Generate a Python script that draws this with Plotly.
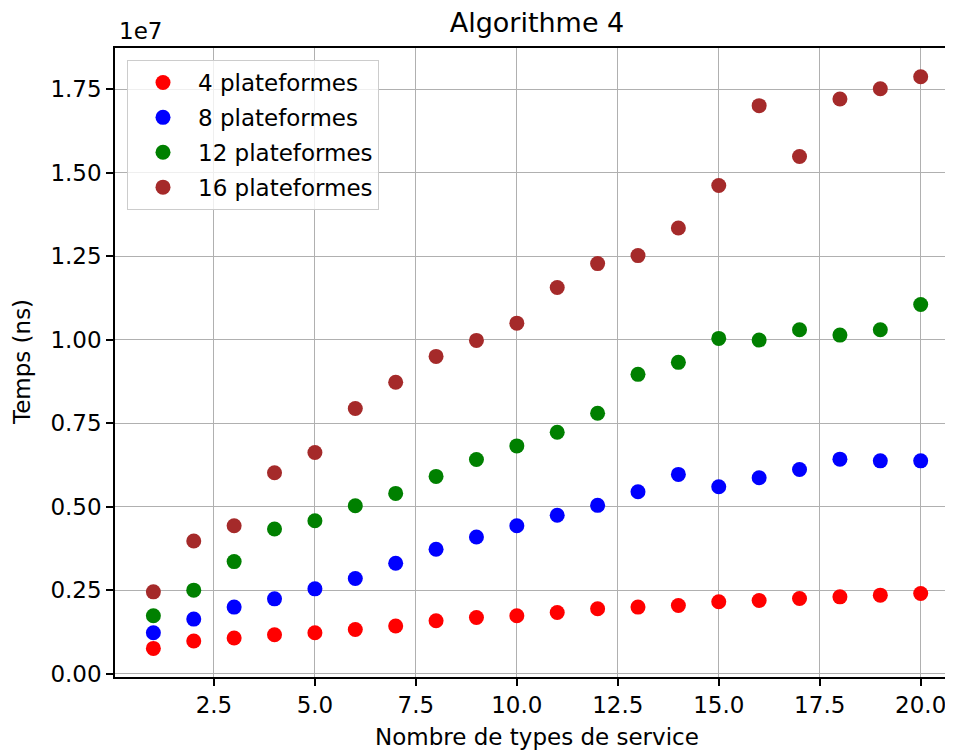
import plotly.graph_objects as go

n_types = list(range(1, 21))

t_4 = [0.756e6, 0.977e6, 1.066e6, 1.165e6, 1.225e6, 1.323e6, 1.425e6, 1.583e6, 1.682e6, 1.732e6,
       1.831e6, 1.941e6, 1.992e6, 2.040e6, 2.151e6, 2.189e6, 2.249e6, 2.300e6, 2.351e6, 2.398e6]
t_8 = [1.225e6, 1.634e6, 1.992e6, 2.240e6, 2.539e6, 2.847e6, 3.306e6, 3.725e6, 4.092e6, 4.430e6,
       4.740e6, 5.039e6, 5.445e6, 5.965e6, 5.594e6, 5.863e6, 6.114e6, 6.422e6, 6.371e6, 6.371e6]
t_12 = [1.732e6, 2.500e6, 3.354e6, 4.331e6, 4.579e6, 5.027e6, 5.397e6, 5.905e6, 6.413e6, 6.819e6,
        7.228e6, 7.796e6, 8.961e6, 9.319e6, 10.036e6, 9.985e6, 10.296e6, 10.135e6, 10.296e6, 11.052e6]
t_16 = [2.449e6, 3.973e6, 4.430e6, 6.013e6, 6.622e6, 7.936e6, 8.722e6, 9.498e6, 9.976e6, 10.493e6,
        11.559e6, 12.276e6, 12.515e6, 13.342e6, 14.615e6, 17.004e6, 15.481e6, 17.205e6, 17.512e6, 17.871e6]

series_names = ["4 plateformes", "8 plateformes", "12 plateformes", "16 plateformes"]
series_values = [t_4, t_8, t_12, t_16]
series_colors = ["red", "blue", "green", "brown"]

x_tickvals = [2.5, 5.0, 7.5, 10.0, 12.5, 15.0, 17.5, 20.0]
x_ticktext = ["2.5", "5.0", "7.5", "10.0", "12.5", "15.0", "17.5", "20.0"]
y_tickvals = [0, 2.5e6, 5e6, 7.5e6, 10e6, 12.5e6, 15e6, 17.5e6]
y_ticktext = ["0.00", "0.25", "0.50", "0.75", "1.00", "1.25", "1.50", "1.75"]

FONT = "DejaVu Sans"
FS = 23
OFF = 8  # the page body adds an 8px margin
W, H = 953 - OFF, 752 - OFF
L, T, B = 115 - OFF, 48 - OFF, 752 - 677
PW, PH = W - L, H - T - B

fig = go.Figure()
for name, vals, col in zip(series_names, series_values, series_colors):
    fig.add_trace(go.Scatter(x=n_types, y=vals, mode="markers", name=name, legendgroup=name,
                             marker=dict(color=col, size=15, line=dict(width=0))))

axis_common = dict(showgrid=True, gridcolor="#b0b0b0", gridwidth=1.2, zeroline=False,
                   showline=True, linecolor="black", linewidth=1.5,
                   ticks="outside", ticklen=7, tickwidth=1.5, tickcolor="black",
                   tickfont=dict(family=FONT, size=FS, color="black"))

fig.update_xaxes(range=[0.05, 20.80], tickvals=x_tickvals, ticktext=x_ticktext, mirror=True, **axis_common)
fig.update_yaxes(range=[-0.1e6, 18.73e6], tickvals=y_tickvals, ticktext=y_ticktext, mirror=False, **axis_common)

fig.update_layout(
    width=W, height=H,
    margin=dict(l=L, r=0, t=T, b=B, pad=0),
    plot_bgcolor="white", paper_bgcolor="white",
    font=dict(family=FONT, size=FS, color="black"),
    title=dict(text="Algorithme 4", x=(537 - 115) / PW, xref="paper", xanchor="center",
               y=1 - (23 - OFF) / H, yanchor="middle", font=dict(family=FONT, size=27, color="black")),
    legend=dict(x=(127 - 115) / PW, y=1 - (60 - 48) / PH, xanchor="left", yanchor="top",
                bgcolor="rgba(255,255,255,0.8)", bordercolor="#cccccc", borderwidth=1,
                font=dict(family=FONT, size=FS, color="black"), tracegroupgap=2,
                itemwidth=60),
    showlegend=True,
    annotations=[
        dict(text="1e7", xref="paper", yref="paper", x=(117 - 115) / PW, y=1 + (48 - 31) / PH,
             xanchor="left", yanchor="middle", showarrow=False, font=dict(family=FONT, size=FS)),
        dict(text="Temps (ns)", xref="paper", yref="paper", x=-(115 - 22) / PW, y=(677 - 362) / PH,
             xanchor="center", yanchor="middle", textangle=-90, showarrow=False,
             font=dict(family=FONT, size=FS)),
        dict(text="Nombre de types de service", xref="paper", yref="paper", x=(537 - 115) / PW,
             y=-(737 - 677) / PH, xanchor="center", yanchor="middle", showarrow=False,
             font=dict(family=FONT, size=FS)),
    ],
)

fig.write_html("out.html")
